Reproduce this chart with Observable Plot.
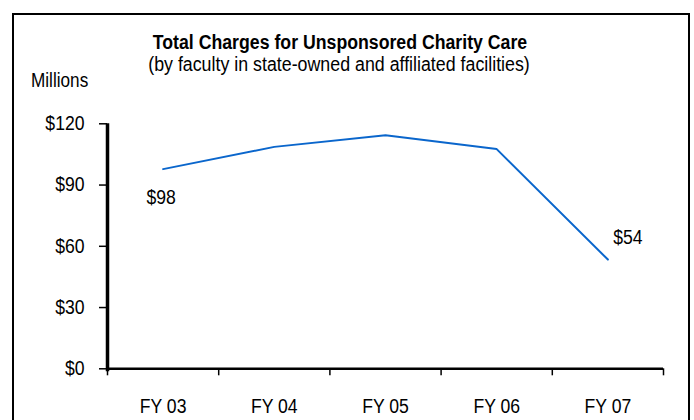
<!DOCTYPE html>
<html>
<head>
<meta charset="utf-8">
<script src="https://cdn.jsdelivr.net/npm/d3@7"></script>
<script src="https://cdn.jsdelivr.net/npm/@observablehq/plot@0.6"></script>
<style>
  html, body { margin: 0; padding: 0; background: #fff; }
  #wrap { position: relative; width: 694px; height: 420px; overflow: hidden; font-family: "Liberation Sans", Arial, sans-serif; color: #000; }
  #frame { position: absolute; left: 12px; top: 13px; width: 678px; height: 430px; border: 2px solid #000; box-sizing: border-box; }
  .t { position: absolute; white-space: nowrap; line-height: 23px; }
  #title { left: 340px; top: 31px; font-weight: bold; font-size: 20px; transform: translateX(-50%) scaleX(0.885); }
  #subtitle { left: 339px; top: 53px; font-size: 20px; transform: translateX(-50%) scaleX(0.89); }
  #units { left: 31px; top: 69px; font-size: 19.5px; line-height: 22px; transform-origin: 0 0; transform: scaleX(0.88); }
  #chart { position: absolute; left: 0; top: 0; }
</style>
</head>
<body>
<div id="wrap">
  <div id="frame"></div>
  <div id="chart"></div>
  <div class="t" id="title">Total Charges for Unsponsored Charity Care</div>
  <div class="t" id="subtitle">(by faculty in state-owned and affiliated facilities)</div>
  <div class="t" id="units">Millions</div>
</div>
<script>
const years = ["FY 03", "FY 04", "FY 05", "FY 06", "FY 07"];
const charges = [97.8, 108.7, 114.4, 107.6, 53.5];
const yTicks = [0, 30, 60, 90, 120];

const data = years.map((year, i) => ({year, pos: i + 0.5, value: charges[i]}));
const boundaries = d3.range(years.length + 1);
const centers = data.map(d => d.pos);
const first = [data[0]];
const last = [data[data.length - 1]];
const fmt = v => "$" + Math.round(v);

const chart = Plot.plot({
  width: 694,
  height: 420,
  marginLeft: 107,
  marginRight: 31,
  marginTop: 123.3,
  marginBottom: 51.7,
  style: {fontFamily: "Liberation Sans, Arial, sans-serif", fontSize: "20px", background: "transparent", color: "#000"},
  x: {type: "linear", domain: [0, years.length], axis: null},
  y: {domain: [0, 120], axis: null},
  marks: [
    Plot.axisY({ticks: yTicks, tickFormat: d => "$" + d, tickSize: 8, tickPadding: 15, stroke: "#000", strokeWidth: 1.5, fontSize: 20, label: null}),
    Plot.axisX({ticks: boundaries, tickFormat: () => "", tickSize: 7, stroke: "#000", strokeWidth: 1.5, label: null}),
    Plot.axisX({ticks: centers, tickFormat: d => years[Math.round(d - 0.5)], tickSize: 0, tickPadding: 30, fontSize: 20, label: null}),
    Plot.ruleY([0], {stroke: "#000", strokeWidth: 2.5}),
    Plot.ruleX([0], {y1: 120, y2: 0, stroke: "#000", strokeWidth: 3.5, insetBottom: -3}),
    Plot.line(data, {x: "pos", y: "value", stroke: "#0a66cc", strokeWidth: 2}),
    Plot.text(first, {x: "pos", y: "value", text: d => fmt(d.value), dx: -2, dy: 28, fontSize: 20, fill: "#000"}),
    Plot.text(last, {x: "pos", y: "value", text: d => fmt(d.value), dx: 20, dy: -22, fontSize: 20, fill: "#000"})
  ]
});
document.getElementById("chart").appendChild(chart);

// emulate the condensed (narrow) face of the original by compressing glyphs horizontally
chart.querySelectorAll("text").forEach(el => {
  const targets = el.querySelectorAll("tspan").length ? el.querySelectorAll("tspan") : [el];
  targets.forEach(t => {
    if (!t.textContent) return;
    const L = t.getComputedTextLength();
    t.setAttribute("textLength", (L * 0.88).toFixed(2));
    t.setAttribute("lengthAdjust", "spacingAndGlyphs");
  });
});
</script>
</body>
</html>
